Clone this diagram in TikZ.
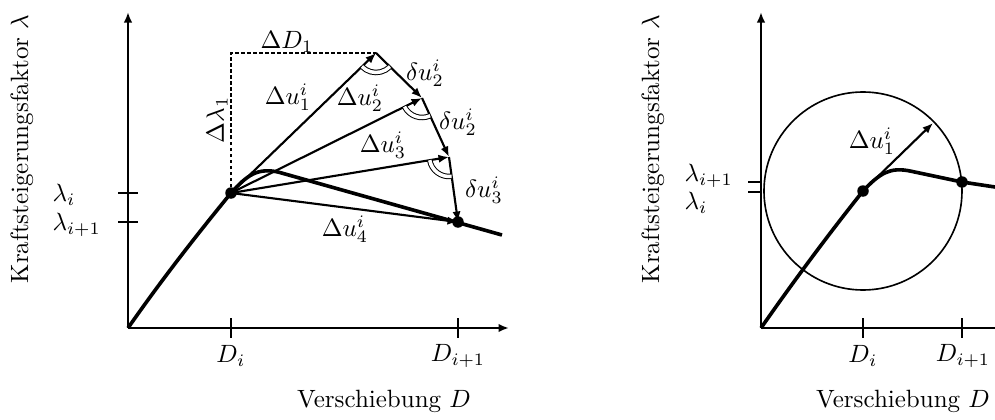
\documentclass[tikz,border=0pt]{standalone}
\usetikzlibrary{arrows.meta,angles}
\begin{document}
\begin{tikzpicture}[x=0.4pt,y=-0.4pt,
  axis/.style={line width=0.95pt},
  axarrow/.style={line width=0.95pt,-{Latex[length=4.2pt,width=3.4pt]}},
  vec/.style={line width=0.85pt,-{Latex[length=4.2pt,width=3.3pt]}},
  curve/.style={line width=1.45pt},
  tickline/.style={line width=0.95pt},
  dot/.style={circle,fill,inner sep=0pt,minimum size=4.6pt},
  lbl/.style={inner sep=0pt},
  ang/.style={draw,line width=0.4pt,double,double distance=1.4pt,angle radius=7.8pt},
  dsh/.style={line width=0.45pt,dash pattern=on 1.4pt off 1pt}]
\useasboundingbox (0,0) rectangle (995,420);

% ---------- left panel ----------
\coordinate (O) at (128,328);
\coordinate (Ytop) at (128,12);
\coordinate (Xend) at (509,328);
\coordinate (Di) at (231,193);
\coordinate (V1) at (376,53);
\coordinate (V2) at (422,98);
\coordinate (V3) at (449,157);
\coordinate (E) at (458,222);
\coordinate (Dc) at (231,53);
\coordinate (Cend) at (502,235);

\draw[axarrow] (O) -- (Ytop);
\draw[axarrow] (O) -- (Xend);

% ticks
\coordinate (ty1a) at (118,193); \coordinate (ty1b) at (138,193);
\coordinate (ty2a) at (118,222); \coordinate (ty2b) at (138,222);
\coordinate (tx1a) at (231,318); \coordinate (tx1b) at (231,338);
\coordinate (tx2a) at (458,318); \coordinate (tx2b) at (458,338);
\draw[tickline] (ty1a) -- (ty1b);
\draw[tickline] (ty2a) -- (ty2b);
\draw[tickline] (tx1a) -- (tx1b);
\draw[tickline] (tx2a) -- (tx2b);

% curve
\draw[curve] (O) .. controls (165,275) and (200,231) .. (Di)
  .. controls (248,174) and (258,168) .. (278,172) -- (Cend);

% dashed
\draw[dsh] (Di) -- (Dc) -- (V1);

% vectors
\draw[vec] (Di) -- (V1);
\draw[vec] (Di) -- (V2);
\draw[vec] (Di) -- (V3);
\draw[vec] (Di) -- (E);
\draw[vec] (V1) -- (V2);
\draw[vec] (V2) -- (V3);
\draw[vec] (V3) -- (E);

% angle marks
\pic[ang] {angle=Di--V1--V2};
\pic[ang] {angle=Di--V2--V3};
\pic[ang] {angle=Di--V3--E};

\node[dot] (dDi) at (Di) {};
\node[dot] (dE) at (E) {};

% labels
\node[lbl,rotate=90] (ylabL) at (22,149) {Kraftsteigerungsfaktor $\lambda$};
\node[lbl,anchor=west] (lamiL) at (52,195) {$\lambda_i$};
\node[lbl,anchor=west] (lamipL) at (52,225) {$\lambda_{i+1}$};
\node[lbl] (DiL) at (231,356) {$D_i$};
\node[lbl] (DipL) at (458,356) {$D_{i+1}$};
\node[lbl] (xlabL) at (384,401) {Verschiebung $D$};
\node[lbl] (dD1) at (287,42) {$\Delta D_1$};
\node[lbl,rotate=90] (dl1) at (217,120) {$\Delta\lambda_1$};
\node[lbl] (du1) at (288,97) {$\Delta u_1^i$};
\node[lbl] (du2) at (360,98) {$\Delta u_2^i$};
\node[lbl] (ddu2a) at (425,73) {$\delta u_2^i$};
\node[lbl] (ddu2b) at (458,122) {$\delta u_2^i$};
\node[lbl] (du3) at (383,145) {$\Delta u_3^i$};
\node[lbl] (ddu3) at (484,190) {$\delta u_3^i$};
\node[lbl] (du4) at (345,229) {$\Delta u_4^i$};

% ---------- right panel ----------
\coordinate (O2) at (761,328);
\coordinate (Ytop2) at (761,12);
\coordinate (Xend2) at (995,328);
\coordinate (Dj) at (863,191);
\coordinate (P2) at (962,182);
\coordinate (A2) at (933,123);
\coordinate (Cend2) at (995,187);

\draw[axarrow] (O2) -- (Ytop2);
\draw[axis] (O2) -- (Xend2);

\coordinate (ry1a) at (748,182); \coordinate (ry1b) at (761,182);
\coordinate (ry2a) at (748,192); \coordinate (ry2b) at (761,192);
\coordinate (rx1a) at (863,318); \coordinate (rx1b) at (863,338);
\coordinate (rx2a) at (962,318); \coordinate (rx2b) at (962,338);
\draw[tickline] (ry1a) -- (ry1b);
\draw[tickline] (ry2a) -- (ry2b);
\draw[tickline] (rx1a) -- (rx1b);
\draw[tickline] (rx2a) -- (rx2b);

\draw[line width=0.65pt] (Dj) circle[radius=39.6pt];

\draw[curve] (O2) .. controls (798,275) and (832,230) .. (Dj)
  .. controls (880,173) and (890,167) .. (910,171) -- (P2) -- (Cend2);

\draw[vec] (Dj) -- (A2);

\node[dot] (dDj) at (Dj) {};
\node[dot] (dP2) at (P2) {};

\node[lbl,rotate=90] (ylabR) at (653,149) {Kraftsteigerungsfaktor $\lambda$};
\node[lbl,anchor=west] (lamipR) at (684,176) {$\lambda_{i+1}$};
\node[lbl,anchor=west] (lamiR) at (684,203) {$\lambda_i$};
\node[lbl] (DiR) at (863,356) {$D_i$};
\node[lbl] (DipR) at (963,356) {$D_{i+1}$};
\node[lbl] (xlabR) at (903,401) {Verschiebung $D$};
\node[lbl] (du1R) at (872,141) {$\Delta u_1^i$};
\end{tikzpicture}
\end{document}
